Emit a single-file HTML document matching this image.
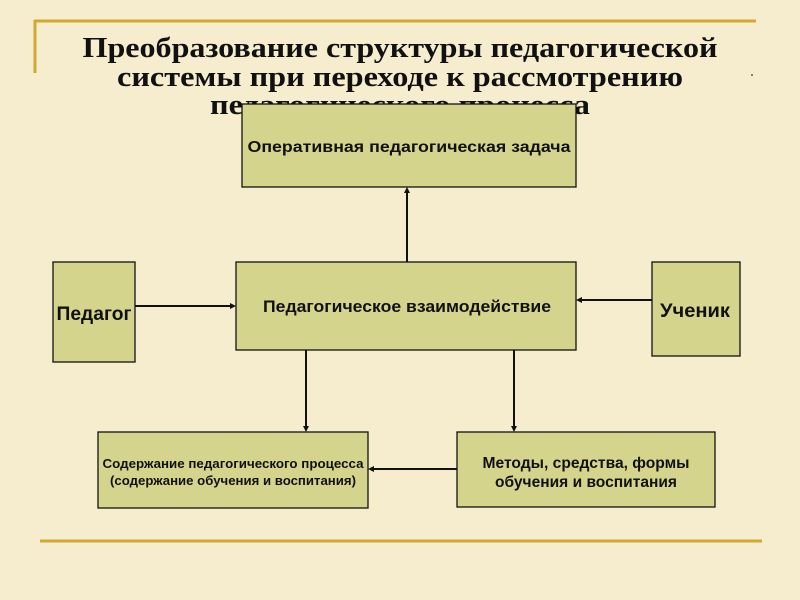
<!DOCTYPE html>
<html><head><meta charset="utf-8"><style>
html,body{margin:0;padding:0;background:#f6ecce;}
svg{display:block}
</style></head><body>
<svg width="800" height="600" viewBox="0 0 800 600" xmlns="http://www.w3.org/2000/svg">
<rect width="800" height="600" fill="#f6ecce"/>
<line x1="34" y1="21" x2="756" y2="21" stroke="#d4a830" stroke-width="3"/>
<line x1="35" y1="20" x2="35" y2="73" stroke="#d4a830" stroke-width="3"/>
<rect x="751" y="74" width="2" height="2" fill="#5a8a8a"/>
<line x1="40" y1="541" x2="762" y2="541" stroke="#d4a830" stroke-width="3"/>
<g font-family="'Liberation Serif',serif" font-weight="bold" font-size="29" fill="#111" text-anchor="middle">
<text x="400" y="57" textLength="635" lengthAdjust="spacingAndGlyphs">Преобразование структуры педагогической</text>
<text x="400" y="86" textLength="566" lengthAdjust="spacingAndGlyphs">системы при переходе к рассмотрению</text>
<text x="400" y="114" textLength="380" lengthAdjust="spacingAndGlyphs">педагогического процесса</text>
</g>
<g fill="#d4d48c" stroke="#111" stroke-width="1.3">
<rect x="242" y="104" width="334" height="83"/>
<rect x="236" y="262" width="340" height="88"/>
<rect x="53" y="262" width="82" height="100"/>
<rect x="652" y="262" width="88" height="94"/>
<rect x="98" y="432" width="270" height="76"/>
<rect x="457" y="432" width="258" height="75"/>
</g>
<g stroke="#111" stroke-width="2" fill="none">
<line x1="407" y1="262" x2="407" y2="192"/>
<line x1="135" y1="306" x2="231" y2="306"/>
<line x1="652" y1="300" x2="581" y2="300"/>
<line x1="306" y1="350" x2="306" y2="427"/>
<line x1="514" y1="350" x2="514" y2="427"/>
<line x1="457" y1="469" x2="373" y2="469"/>
</g>
<g fill="#111">
<polygon points="407,187 404,193 410,193"/>
<polygon points="236,306 230,303 230,309"/>
<polygon points="576,300 582,297 582,303"/>
<polygon points="306,432 303,426 309,426"/>
<polygon points="514,432 511,426 517,426"/>
<polygon points="368,469 374,466 374,472"/>
</g>
<g font-family="'Liberation Sans',sans-serif" font-weight="bold" fill="#111" text-anchor="middle">
<text x="409" y="152" font-size="16" textLength="323" lengthAdjust="spacingAndGlyphs">Оперативная педагогическая задача</text>
<text x="407" y="312" font-size="17" textLength="288" lengthAdjust="spacingAndGlyphs">Педагогическое взаимодействие</text>
<text x="94" y="320" font-size="19" textLength="75" lengthAdjust="spacingAndGlyphs">Педагог</text>
<text x="695" y="317" font-size="19" textLength="70" lengthAdjust="spacingAndGlyphs">Ученик</text>
<text x="233" y="468" font-size="12.5" textLength="261" lengthAdjust="spacingAndGlyphs">Содержание педагогического процесса</text>
<text x="233" y="485" font-size="12.5" textLength="246" lengthAdjust="spacingAndGlyphs">(содержание обучения и воспитания)</text>
<text x="586" y="468" font-size="16" textLength="207" lengthAdjust="spacingAndGlyphs">Методы, средства, формы</text>
<text x="586" y="487" font-size="16" textLength="182" lengthAdjust="spacingAndGlyphs">обучения и воспитания</text>
</g>
</svg>
</body></html>
